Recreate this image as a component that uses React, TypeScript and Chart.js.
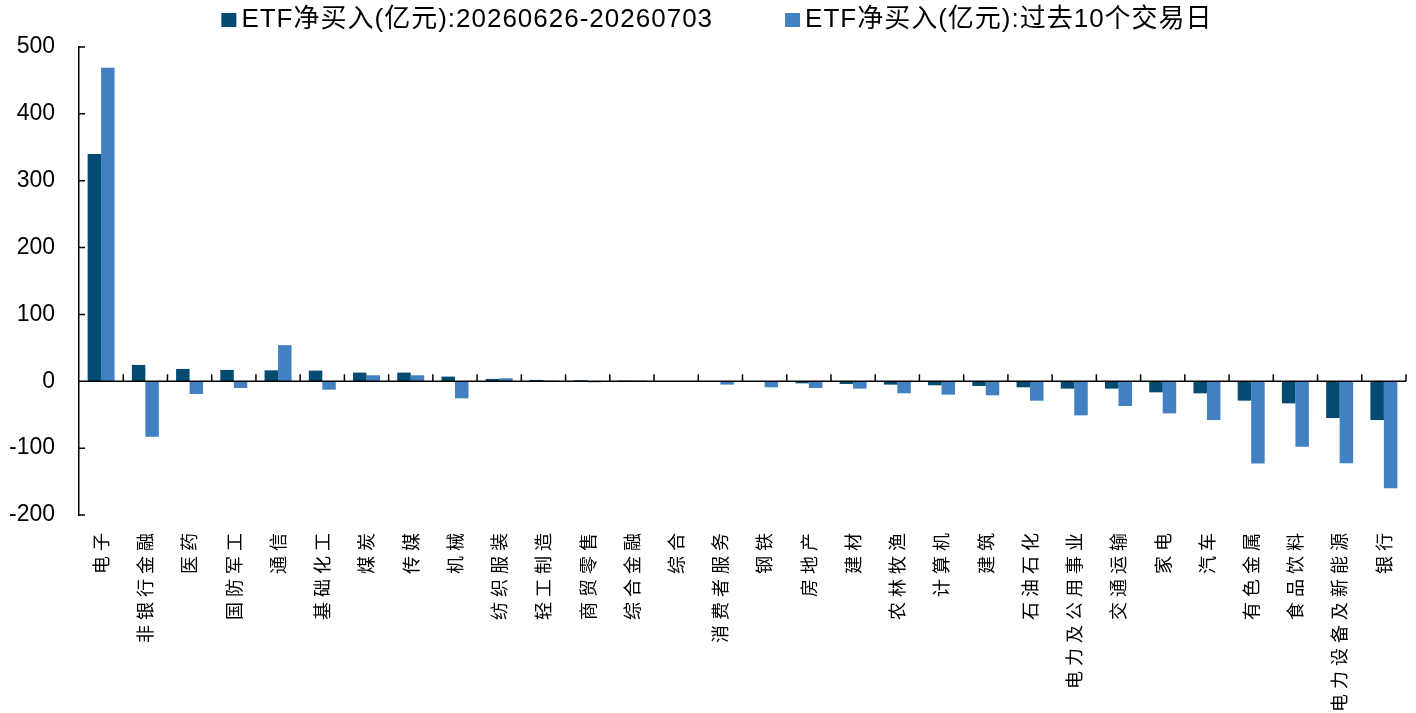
import React, { useEffect, useRef } from 'react';
import { Chart, registerables } from 'chart.js';

Chart.register(...registerables);

const categories = [
  '电子', '非银行金融', '医药', '国防军工', '通信', '基础化工', '煤炭', '传媒', '机械', '纺织服装',
  '轻工制造', '商贸零售', '综合金融', '综合', '消费者服务', '钢铁', '房地产', '建材', '农林牧渔', '计算机',
  '建筑', '石油石化', '电力及公用事业', '交通运输', '家电', '汽车', '有色金属', '食品饮料', '电力设备及新能源', '银行',
];

const weekLabel = 'ETF净买入(亿元):20260626-20260703';
const tenDayLabel = 'ETF净买入(亿元):过去10个交易日';

const weekValues = [
  340, 24.5, 18.5, 17, 16.4, 16, 13, 13, 7, 3.5,
  2, 1.5, 1, -1, -1, -1, -3, -4, -5, -6,
  -7, -9, -11, -11, -16.5, -18, -29, -33, -55, -58,
];

const tenDayValues = [
  469, -83, -19, -10, 54, -12.5, 9, 9, -25.5, 4.5,
  1, -1.5, 1, -1, -5, -9, -10, -11, -18, -20,
  -21, -29, -51, -37, -48, -58, -123, -98, -122.5, -160,
];

const yTicks = [-200, -100, 0, 100, 200, 300, 400, 500];

const DARK = '#034B71';
const LIGHT = '#4281C1';
const LEGEND_FONT = '26px "Liberation Sans", "Noto Sans CJK SC", sans-serif';

const decor = {
  id: 'decor',
  afterDatasetsDraw(chart: any) {
    const { ctx, chartArea, scales } = chart;
    const x = scales.x;
    const y = scales.y;
    const y0 = y.getPixelForValue(0);
    ctx.save();
    ctx.strokeStyle = '#000';
    ctx.lineWidth = 1.5;
    ctx.beginPath();
    ctx.moveTo(chartArea.left, y0);
    ctx.lineTo(chartArea.right, y0);
    const n = categories.length;
    for (let k = 1; k <= n; k++) {
      const bx = k < n ? (x.getPixelForTick(k - 1) + x.getPixelForTick(k)) / 2 : chartArea.right;
      ctx.moveTo(bx, y0);
      ctx.lineTo(bx, y0 - 7);
    }
    for (const v of yTicks) {
      const py = y.getPixelForValue(v);
      ctx.moveTo(chartArea.left, py);
      ctx.lineTo(chartArea.left + 6, py);
    }
    ctx.stroke();
    ctx.restore();
    (ctx as any).letterSpacing = '5px';
  },
  afterDraw(chart: any) {
    const ctx = chart.ctx;
    ctx.save();
    (ctx as any).letterSpacing = '1px';
    ctx.font = LEGEND_FONT;
    ctx.textBaseline = 'middle';
    ctx.textAlign = 'left';
    const items = chart.data.datasets.map((d: any) => ({ text: d.label, color: d.backgroundColor }));
    const box = 15;
    const gapText = 5;
    const gapItems = 72;
    const widths = items.map((it: any) => box + gapText + ctx.measureText(it.text).width);
    const total = widths.reduce((a: number, b: number) => a + b, 0) + gapItems * (items.length - 1);
    let cx = 717 - total / 2;
    items.forEach((it: any, i: number) => {
      ctx.fillStyle = it.color;
      ctx.fillRect(cx, 13, box, 14);
      ctx.fillStyle = '#000';
      ctx.fillText(it.text, cx + box + gapText, 20);
      cx += widths[i] + gapItems;
    });
    ctx.restore();
    (ctx as any).letterSpacing = '0px';
  },
};

export default function App() {
  const ref = useRef<HTMLCanvasElement | null>(null);

  useEffect(() => {
    if (!ref.current) return;
    const chart = new Chart(ref.current, {
      type: 'bar',
      data: {
        labels: categories,
        datasets: [
          { label: weekLabel, data: weekValues, backgroundColor: DARK, borderWidth: 0 },
          { label: tenDayLabel, data: tenDayValues, backgroundColor: LIGHT, borderWidth: 0 },
        ],
      },
      options: {
        responsive: false,
        animation: false,
        devicePixelRatio: 1,
        layout: { padding: { top: 47, right: 10, bottom: 0, left: 0 } },
        datasets: { bar: { categoryPercentage: 0.61, barPercentage: 1 } },
        plugins: {
          legend: { display: false },
          tooltip: { enabled: false },
        },
        scales: {
          x: {
            grid: { display: false },
            border: { display: false },
            afterFit(scale: any) { scale.height = 198; },
            ticks: {
              z: 1,
              minRotation: 90,
              maxRotation: 90,
              autoSkip: false,
              padding: 5,
              color: '#000',
              font: { family: '"Noto Sans CJK SC", sans-serif', size: 18 },
            },
          },
          y: {
            min: -200,
            max: 500,
            afterFit(scale: any) { scale.width = 79; },
            grid: { display: false, drawTicks: false },
            border: { display: true, color: '#000', width: 1.5 },
            ticks: {
              stepSize: 100,
              padding: 24,
              color: '#000',
              font: { family: '"Liberation Sans", Arial, sans-serif', size: 23 },
            },
          },
        },
      },
      plugins: [decor],
    });
    return () => chart.destroy();
  }, []);

  return (
    <div style={{ position: 'fixed', left: 0, top: 0, width: 1416, height: 713, background: '#fff' }}>
      <canvas ref={ref} width={1416} height={713} style={{ display: 'block', width: 1416, height: 713 }} />
    </div>
  );
}
